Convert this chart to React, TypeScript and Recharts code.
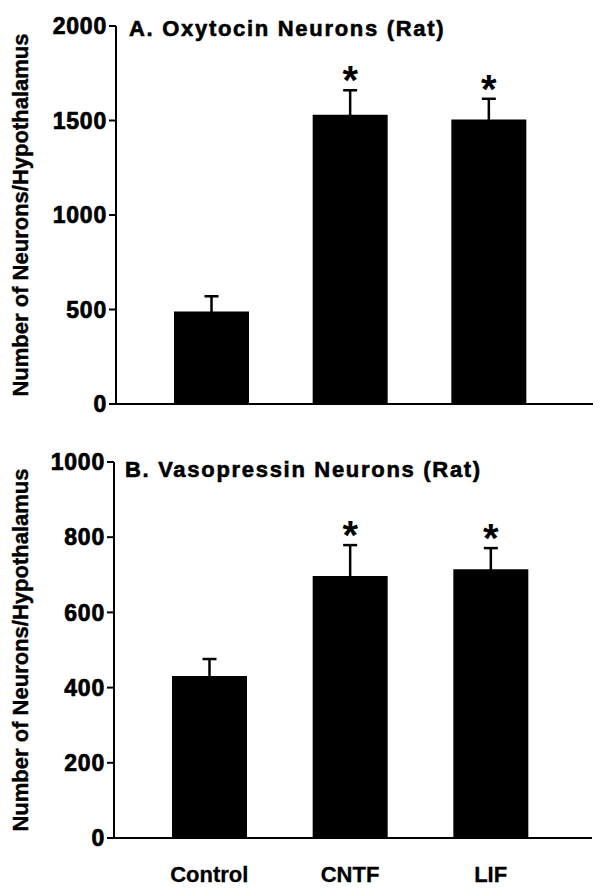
import { BarChart, Bar, XAxis, YAxis, ErrorBar, LabelList, Label } from "recharts";

const categories = ["Control", "CNTF", "LIF"];
const significant = [false, true, true];

const oxytocinMean = [490, 1530, 1505];
const oxytocinErr = [80, 130, 110];
const oxytocinTicks = [0, 500, 1000, 1500, 2000];

const vasopressinMean = [431, 697, 715];
const vasopressinErr = [45, 82, 56];
const vasopressinTicks = [0, 200, 400, 600, 800, 1000];

const FONT = "Liberation Sans";
const Y_LABEL = "Number of Neurons/Hypothalamus";

function buildRows(means: number[], errs: number[]) {
  return categories.map((name, i) => ({
    name,
    value: means[i],
    err: errs[i],
    sig: significant[i],
  }));
}

const oxytocinRows = buildRows(oxytocinMean, oxytocinErr);
const vasopressinRows = buildRows(vasopressinMean, vasopressinErr);

// the scanned figure has heavy, slightly smeared glyphs; a thin stroke mimics that
const heavy = { stroke: "#000", strokeWidth: 0.7 };

function YTick(props: any) {
  const { x, y, payload } = props;
  return (
    <text
      x={x}
      y={y}
      dy="0.36em"
      textAnchor="end"
      fontFamily={FONT}
      fontWeight="bold"
      fontSize={23}
      letterSpacing={0.8}
      fill="#000"
      {...heavy}
    >
      {payload.value}
    </text>
  );
}

function XTick(props: any) {
  const { x, y, payload } = props;
  return (
    <text
      x={x}
      y={y}
      dy="0.72em"
      textAnchor="middle"
      fontFamily={FONT}
      fontWeight="bold"
      fontSize={22}
      fill="#000"
      stroke="#000"
      strokeWidth={0.3}
    >
      {payload.value}
    </text>
  );
}

function makeStar(rows: { err: number; sig: boolean }[]) {
  return (props: any) => {
    const { x, y, width, height, value, index } = props;
    const row = rows[index];
    if (!row || !row.sig || !value) return null;
    const perUnit = Number(height) / Number(value);
    const errTop = Number(y) - row.err * perUnit;
    return (
      <text
        x={Number(x) + Number(width) / 2}
        y={errTop + 4}
        textAnchor="middle"
        fontFamily={FONT}
        fontWeight="bold"
        fontSize={40}
        fill="#000"
      >
        *
      </text>
    );
  };
}

function yLabel(props: any) {
  const vb = props.viewBox || {};
  const cy = (vb.y ?? 0) + (vb.height ?? 0) / 2;
  const x = 28;
  return (
    <text
      x={x}
      y={cy}
      transform={`rotate(-90 ${x} ${cy})`}
      textAnchor="middle"
      fontFamily={FONT}
      fontWeight="bold"
      fontSize={22}
      fill="#000"
      stroke="#000"
      strokeWidth={0.4}
    >
      {Y_LABEL}
    </text>
  );
}

const titleStyle: React.CSSProperties = {
  position: "absolute",
  fontFamily: FONT,
  fontWeight: 700,
  fontSize: 22,
  lineHeight: "22px",
  letterSpacing: 1.7,
  color: "#000",
  whiteSpace: "nowrap",
  WebkitTextStroke: "0.6px #000",
};

const axisLine = { stroke: "#000", strokeWidth: 2 };

export default function App() {
  return (
    <div
      style={{
        position: "absolute",
        left: 0,
        top: 0,
        width: 602,
        height: 893,
        background: "#fff",
      }}
    >
      <div style={{ position: "absolute", left: 0, top: 0 }}>
        <BarChart
          width={602}
          height={420}
          data={oxytocinRows}
          margin={{ top: 26, right: 9, bottom: 0, left: 0 }}
        >
          <XAxis
            dataKey="name"
            height={16}
            tick={false}
            tickLine={false}
            axisLine={axisLine}
            padding={{ left: 26, right: 35 }}
          />
          <YAxis
            width={116}
            domain={[0, 2000]}
            ticks={oxytocinTicks}
            interval={0}
            tickSize={7}
            tickMargin={2}
            tick={<YTick />}
            tickLine={axisLine}
            axisLine={axisLine}
          >
            <Label content={yLabel} />
          </YAxis>
          <Bar dataKey="value" fill="#000" barSize={75} isAnimationActive={false}>
            <ErrorBar dataKey="err" width={7} stroke="#000" strokeWidth={2.5} direction="y" />
            <LabelList dataKey="value" content={makeStar(oxytocinRows)} />
          </Bar>
        </BarChart>
      </div>
      <div style={{ ...titleStyle, left: 129, top: 18 }}>A. Oxytocin Neurons (Rat)</div>

      <div style={{ position: "absolute", left: 0, top: 420 }}>
        <BarChart
          width={602}
          height={473}
          data={vasopressinRows}
          margin={{ top: 42, right: 10, bottom: 0, left: 0 }}
        >
          <XAxis
            dataKey="name"
            height={55}
            tickLine={false}
            tickSize={6}
            tickMargin={22}
            tick={<XTick />}
            axisLine={axisLine}
            padding={{ left: 25, right: 31 }}
          />
          <YAxis
            width={114}
            domain={[0, 1000]}
            ticks={vasopressinTicks}
            interval={0}
            tickSize={7}
            tickMargin={2}
            tick={<YTick />}
            tickLine={axisLine}
            axisLine={axisLine}
          >
            <Label content={yLabel} />
          </YAxis>
          <Bar dataKey="value" fill="#000" barSize={75} isAnimationActive={false}>
            <ErrorBar dataKey="err" width={7} stroke="#000" strokeWidth={2.5} direction="y" />
            <LabelList dataKey="value" content={makeStar(vasopressinRows)} />
          </Bar>
        </BarChart>
      </div>
      <div style={{ ...titleStyle, left: 125, top: 420 + 39 }}>B. Vasopressin Neurons (Rat)</div>
    </div>
  );
}
